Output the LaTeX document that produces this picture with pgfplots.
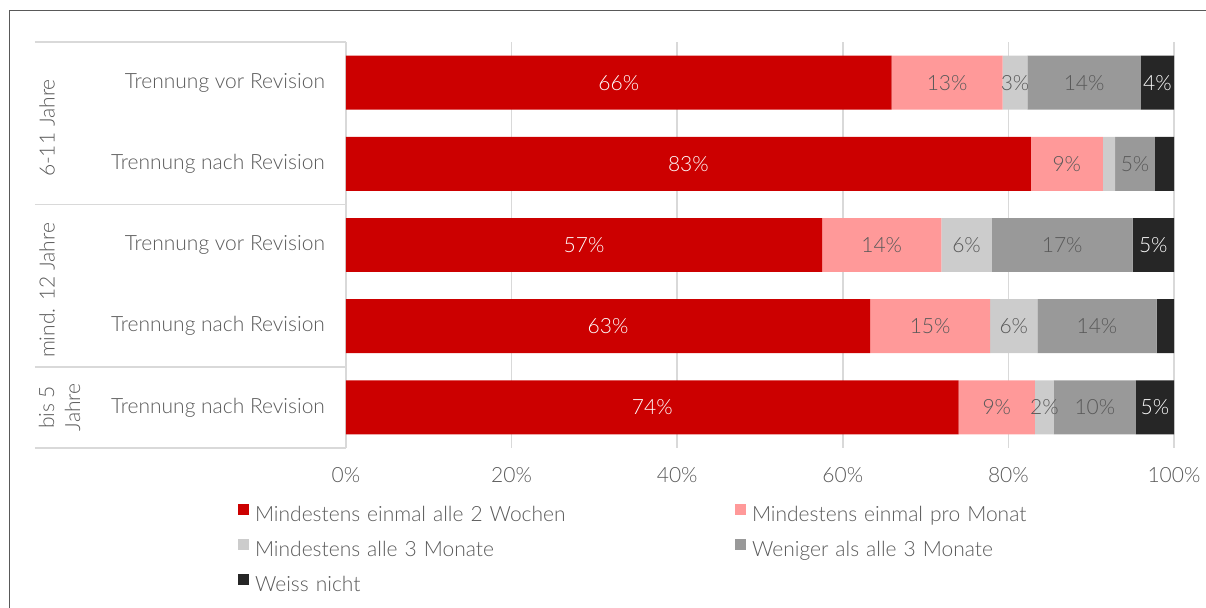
\documentclass[border=0pt]{standalone}
\usepackage{fontspec}
\setmainfont{Lato Light}
\usepackage{pgfplots}
\usepackage{pgfplotstable}
\pgfplotsset{compat=1.18}

\definecolor{cRed}{HTML}{CC0000}
\definecolor{cPink}{HTML}{FF9999}
\definecolor{cLight}{HTML}{CCCCCC}
\definecolor{cGray}{HTML}{999999}
\definecolor{cBlack}{HTML}{262626}
\definecolor{txt}{HTML}{595959}
\definecolor{gridc}{HTML}{D9D9D9}

\newcommand{\lblfont}{\fontsize{10.5}{13}\selectfont}

% idx 4 = top bar
\pgfplotstableread{
idx a    b    c   d    e   la   lb   lc  ld   le
4   65.9 13.4 3.0 13.7 4.0 66\% 13\% 3\% 14\% 4\%
3   82.7 8.7  1.5 4.8  2.3 83\% 9\%  {}  5\%  {}
2   57.5 14.4 6.1 17.0 5.0 57\% 14\% 6\% 17\% 5\%
1   63.3 14.5 5.7 14.4 2.1 63\% 15\% 6\% 14\% {}
0   74.0 9.2  2.3 9.9  4.6 74\% 9\%  2\% 10\% 5\%
}\data

\begin{document}
\begin{tikzpicture}
\useasboundingbox (0pt,0pt) rectangle (603pt,-304pt);
\draw[color=txt, line width=0.5pt] (4.5pt,-304pt) -- (4.5pt,-5.5pt) -- (603pt,-5.5pt);
\begin{axis}[
    xbar stacked,
    bar width=0.665,
    scale only axis,
    width=414pt, height=203pt,
    at={(173pt,-224pt)}, anchor=south west,
    xmin=0, xmax=100, ymin=-0.5, ymax=4.5,
    xtick={0,20,...,100},
    xticklabel={\pgfmathprintnumber{\tick}\%},
    ytick={0,...,4},
    yticklabels={Trennung nach Revision, Trennung nach Revision, Trennung vor Revision, Trennung nach Revision, Trennung vor Revision},
    major tick length=0pt,
    axis line style={draw=none},
    xmajorgrids,
    grid style={gridc, line width=0.75pt},
    tick label style={font=\lblfont, text=txt},
    yticklabel style={xshift=-7pt},
    xticklabel style={yshift=-6pt},
    /pgf/number format/assume math mode=true,
    clip=false,
    point meta=explicit symbolic,
    nodes near coords,
    every node near coord/.append style={font=\lblfont, anchor=center},
    legend columns=2,
    legend cell align=left,
    legend image code/.code={\fill[#1] (0pt,0.6pt) rectangle (5.5pt,6.1pt);},
    legend style={draw=none, fill=none, at={(-0.1304,-0.139)}, anchor=north west,
        inner sep=0pt, outer sep=0pt, column sep=0pt, row sep=5.55pt,
        font=\lblfont, text=txt,
        nodes={text width=237pt, inner xsep=3pt, inner ysep=1pt, text height=7.5pt, text depth=2.2pt, align=left}},
]
\addplot[fill=cRed, draw=none, every node near coord/.append style={text=white}]
    table[x=a, y=idx, meta=la] {\data};
\addplot[fill=cPink, draw=none, every node near coord/.append style={text=txt}]
    table[x=b, y=idx, meta=lb] {\data};
\addplot[fill=cLight, draw=none, every node near coord/.append style={text=txt}]
    table[x=c, y=idx, meta=lc] {\data};
\addplot[fill=cGray, draw=none, every node near coord/.append style={text=txt}]
    table[x=d, y=idx, meta=ld] {\data};
\addplot[fill=cBlack, draw=none, every node near coord/.append style={text=white}]
    table[x=e, y=idx, meta=le] {\data};
\legend{Mindestens einmal alle 2 Wochen, Mindestens einmal pro Monat, Mindestens alle 3 Monate, Weniger als alle 3 Monate, Weiss nicht}

% table lines on the left
\draw[gridc, line width=0.75pt] (axis cs:-37.56,4.5) -- (axis cs:0,4.5);
\draw[gridc, line width=0.75pt] (axis cs:-37.56,2.5) -- (axis cs:0,2.5);
\draw[gridc, line width=0.75pt] (axis cs:-37.56,0.5) -- (axis cs:0,0.5);
\draw[gridc, line width=0.75pt] (axis cs:-37.56,-0.5) -- (axis cs:0,-0.5);
\draw[gridc, line width=0.75pt] (axis cs:0,-0.5) -- (axis cs:0,4.5);
\node[rotate=90, text=txt, font=\lblfont] at (axis cs:-36.1,3.44) {6-11 Jahre};
\node[rotate=90, text=txt, font=\lblfont] at (axis cs:-36.1,1.44) {mind. 12 Jahre};
\node[rotate=90, text=txt, font=\lblfont, align=center] at (axis cs:-34.6,0) {bis 5\\Jahre};
\end{axis}
\end{tikzpicture}
\end{document}
